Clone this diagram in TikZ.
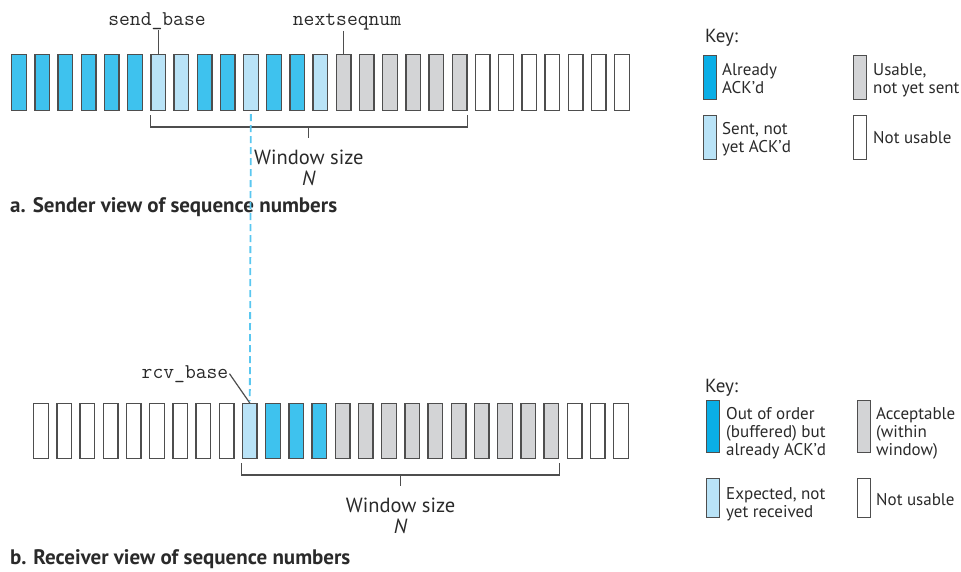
\documentclass[tikz,border=0pt]{standalone}
\usepackage{fontspec}
\setmainfont{PT Sans}
\usetikzlibrary{calc}
\definecolor{ackblue}{HTML}{3EC2EE}
\definecolor{keyblue}{HTML}{0AAEE6}
\definecolor{sentblue}{HTML}{B9E3F7}
\definecolor{okgray}{HTML}{D3D4D6}
\definecolor{edgegray}{HTML}{4E4E4E}
\definecolor{dashblue}{HTML}{5AC7F0}
\definecolor{ink}{HTML}{2A2A2A}
\begin{document}
\begin{tikzpicture}[x=1pt,y=-1pt,
  slot/.style={draw=edgegray,line width=1.4pt,minimum width=14.6pt,minimum height=55.6pt,inner sep=0pt},
  swatch/.style={draw=edgegray,line width=1.4pt,minimum width=12.6pt,inner sep=0pt},
  brk/.style={edgegray,line width=1.2pt},
  ptr/.style={text=ink,font=\fontsize{21}{22}\selectfont\ttfamily,inner sep=1pt,anchor=base},
  keytxt/.style={text=ink,font=\fontsize{17}{18}\selectfont,align=left,inner sep=0pt,anchor=north west},
  keyhead/.style={text=ink,font=\fontsize{19}{20}\selectfont,inner sep=0pt,anchor=base west},
  win/.style={text=ink,font=\fontsize{20.5}{21}\selectfont,align=center,inner sep=0pt,anchor=north},
  caption/.style={text=ink,font=\fontsize{21}{22}\selectfont\bfseries,inner sep=0pt,anchor=base west}]
\useasboundingbox (0,0) rectangle (961,571);

% sender view
\foreach \c [count=\i] in {ackblue,ackblue,ackblue,ackblue,ackblue,ackblue,sentblue,sentblue,ackblue,ackblue,sentblue,ackblue,ackblue,sentblue,okgray,okgray,okgray,okgray,okgray,okgray,white,white,white,white,white,white,white}
  \node[slot,fill=\c] (s\i) at ({19+(\i-1)*23.19},82.5) {};
\node[ptr] (sendbase) at (157,25) {send\_base};
\node[ptr] (nextseq) at (347,25) {nextseqnum};
\draw[brk] (sendbase.south -| s7.north) -- (s7.north);
\draw[brk] (nextseq.south -| s15.north) -- (s15.north);
\draw[brk] ($(s7.south west)+(0,4)$) -- ++(0,12) coordinate (ta) -- (ta -| s20.south east) coordinate (tb) -- ++(0,-12);
\draw[brk] ($(ta)!.5!(tb)$) -- ++(0,11) coordinate (tc);
\node[win] (wintop) at ($(tc)+(0,11.5)$) {Window size\\\textit{N}};
\node[caption] (capa) at (10,212) {a. Sender view of sequence numbers};

% receiver view
\foreach \c [count=\i] in {white,white,white,white,white,white,white,white,white,sentblue,ackblue,ackblue,ackblue,okgray,okgray,okgray,okgray,okgray,okgray,okgray,okgray,okgray,okgray,white,white,white}
  \node[slot,fill=\c,minimum height=54.6pt] (r\i) at ({41+(\i-1)*23.2},431) {};
\node[ptr] (rcvbase) at (185,378) {rcv\_base};
\draw[brk] (rcvbase.east) -- (r10.north);
\draw[brk] ($(r10.south west)+(0,4)$) -- ++(0,12) coordinate (ba) -- (ba -| r23.south east) coordinate (bb) -- ++(0,-12);
\draw[brk] ($(ba)!.5!(bb)$) -- ++(0,11) coordinate (bc);
\node[win] (winbot) at ($(bc)+(0,11.5)$) {Window size\\\textit{N}};
\node[caption] (capb) at (10,564) {b. Receiver view of sequence numbers};

\draw[dashblue,line width=1.8pt,dash pattern=on 7pt off 4pt,shorten <=3pt,shorten >=2pt] (s11.south) -- (r10.north);

% keys
\node[keyhead] (keya) at (705,42.7) {Key:};
\node[swatch,fill=keyblue,minimum height=43.6pt] (ka1) at (710,77.5) {};
\node[swatch,fill=okgray,minimum height=43.6pt] (ka2) at (860,77.5) {};
\node[swatch,fill=sentblue,minimum height=43.6pt] (ka3) at (710,137.5) {};
\node[swatch,fill=white,minimum height=43.6pt] (ka4) at (860,137.5) {};
\node[keytxt] (ta1) at (722,63.5) {Already\\ACK’d};
\node[keytxt] (ta2) at (873,63.5) {Usable,\\not yet sent};
\node[keytxt] (ta3) at (722,122.5) {Sent, not\\yet ACK’d};
\node[keytxt,anchor=base west] (ta4) at (873,143) {Not usable};

\node[keyhead] (keyb) at (705,392) {Key:};
\node[swatch,fill=keyblue,minimum height=51.6pt] (kb1) at (713,426.5) {};
\node[swatch,fill=okgray,minimum height=51.6pt] (kb2) at (864,426.5) {};
\node[swatch,fill=sentblue,minimum height=38.6pt] (kb3) at (713,498) {};
\node[swatch,fill=white,minimum height=38.6pt] (kb4) at (864,498) {};
\node[keytxt] (tb1) at (726,407.5) {Out of order\\(buffered) but\\already ACK’d};
\node[keytxt] (tb2) at (876,407.5) {Acceptable\\(within\\window)};
\node[keytxt] (tb3) at (726,487.5) {Expected, not\\yet received};
\node[keytxt,anchor=base west] (tb4) at (876,505) {Not usable};
\end{tikzpicture}
\end{document}
